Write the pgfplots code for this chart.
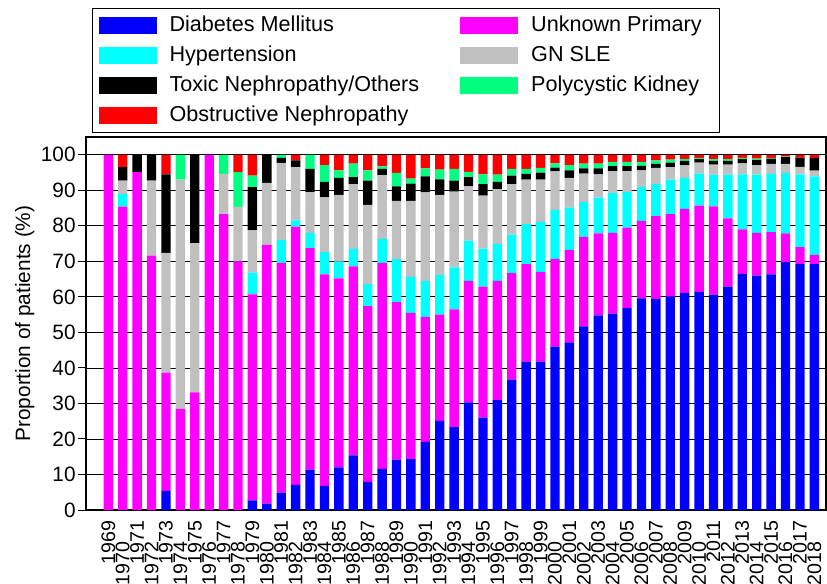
\documentclass[border=0pt]{standalone}
\usepackage{fontspec}
\setmainfont{Liberation Sans}
\usepackage{pgfplots}
\usepackage{pgfplotstable}
\pgfplotsset{compat=1.18}

\definecolor{dmblue}{RGB}{0,0,255}
\definecolor{unkmag}{RGB}{255,0,255}
\definecolor{htcyan}{RGB}{0,255,255}
\definecolor{gngray}{RGB}{192,192,192}
\definecolor{pkgreen}{RGB}{0,255,128}
\definecolor{obred}{RGB}{255,0,0}

% share of patients (%) per cause, stacked bottom to top
\pgfplotstableread{
year dm   unk   ht   gn   tox  pk  obs
1969 0    100   0    0    0    0   0
1970 0    85.4  3.5  3.8  3.8  0   3.5
1971 0    95.1  0    0    4.9  0   0
1972 0    71.6  0    21.1 7.3  0   0
1973 5.4  33.3  0    33.7 22.1 0   5.5
1974 0    28.5  0    64.5 0    7.0 0
1975 0    33.1  0    42.0 24.9 0   0
1976 0    100   0    0    0    0   0
1977 0    83.3  0    11.3 0    5.4 0
1978 0    70.0  0    15.3 0    9.8 4.9
1979 2.7  58.0  6.1  11.9 12.2 3.2 5.9
1980 1.8  72.8  0    17.5 7.9  0   0
1981 4.9  64.7  6.4  21.7 1.4  0.9 0
1982 7.1  72.7  1.7  15.0 1.9  0   1.6
1983 11.4 62.3  4.3  11.5 6.5  4.0 0
1984 6.8  59.5  6.3  15.4 4.4  4.7 2.9
1985 12.0 53.2  4.7  18.8 4.8  2.1 4.4
1986 15.4 53.2  4.9  18.2 2.0  3.8 2.5
1987 7.9  49.5  6.2  22.3 6.8  2.9 4.4
1988 11.6 58.0  6.7  18.0 1.7  0.7 3.3
1989 14.2 44.3  12.1 16.4 4.1  3.8 5.1
1990 14.3 41.2  10.1 21.4 4.9  1.4 6.7
1991 19.2 35.2  10.0 25.0 4.5  2.3 3.8
1992 25.1 29.9  11.1 22.6 4.4  2.7 4.2
1993 23.3 33.2  11.8 21.3 3.1  3.3 4.0
1994 30.3 34.2  11.3 15.3 2.6  1.5 4.8
1995 26.0 36.9  10.7 14.9 3.2  2.8 5.5
1996 30.9 33.6  10.4 15.4 2.1  2.0 5.6
1997 36.7 30.0  10.8 14.2 2.4  1.9 4.0
1998 41.8 27.4  11.3 12.5 1.6  1.4 4.0
1999 41.8 25.2  14.1 11.9 2.0  1.3 3.7
2000 46.0 24.7  13.8 10.8 1.1  1.2 2.4
2001 47.2 26.0  11.9 8.4  2.1  1.5 2.9
2002 51.7 25.2  9.8  8.0  1.5  1.3 2.5
2003 54.8 23.1  10.0 6.6  1.7  1.3 2.5
2004 55.3 22.7  11.2 6.2  1.4  1.2 2.0
2005 56.8 22.7  10.0 5.9  1.4  1.2 2.0
2006 59.6 21.8  9.5  4.7  1.3  1.1 2.0
2007 59.4 23.3  9.0  4.6  1.1  1.0 1.6
2008 60.1 23.2  9.7  3.5  1.3  0.8 1.4
2009 61.1 23.7  8.7  3.5  1.3  0.5 1.2
2010 61.4 24.3  9.0  3.1  1.0  0.3 0.9
2011 60.6 24.9  8.9  2.8  1.1  0.5 1.2
2012 62.9 19.2  12.3 2.8  1.1  0.5 1.2
2013 66.5 12.5  15.5 3.1  1.2  0.3 0.9
2014 66.0 12.0  16.4 2.6  1.5  0.4 1.1
2015 66.3 11.9  16.4 2.8  1.5  0.2 0.9
2016 69.8 8.1   16.9 2.6  1.9  0.2 0.5
2017 69.2 4.8   20.5 2.1  2.6  0   0.8
2018 69.2 2.6   22.1 1.6  3.6  0   0.9
}\causes

% even years sit one row lower
\newcommand{\lo}[1]{#1\kern10.5pt}

\begin{document}
\fontsize{10.4}{12.5}\selectfont
\begin{tikzpicture}
\begin{axis}[
  width=370pt, height=186.5pt, scale only axis,
  ybar stacked, bar width=0.65,
  xmin=1967.45, xmax=2018.81,
  ymin=0, ymax=105,
  ytick={0,10,...,100},
  xtick={1969,...,2018},
  xticklabels={1969,\lo{1970},1971,\lo{1972},1973,\lo{1974},1975,\lo{1976},1977,\lo{1978},
    1979,\lo{1980},1981,\lo{1982},1983,\lo{1984},1985,\lo{1986},1987,\lo{1988},
    1989,\lo{1990},1991,\lo{1992},1993,\lo{1994},1995,\lo{1996},1997,\lo{1998},
    1999,\lo{2000},2001,\lo{2002},2003,\lo{2004},2005,\lo{2006},2007,\lo{2008},
    2009,\lo{2010},2011,\lo{2012},2013,\lo{2014},2015,\lo{2016},2017,\lo{2018}},
  xticklabel style={rotate=90, anchor=east, inner sep=1pt, font=\fontsize{9.8}{11}\selectfont},
  yticklabel style={inner xsep=1pt},
  xtick style={draw=none},
  ytick style={black, line width=0.5pt},
  tick align=outside,
  major tick length=4pt,
  ymajorgrids,
  major grid style={black, line width=0.4pt},
  axis line style={line width=0.6pt},
  /pgf/number format/assume math mode=true,
  ylabel={Proportion of patients (\%)},
  ylabel shift=-1.5pt,
  legend image code/.code={\fill[#1] (0pt,-4.25pt) rectangle (29pt,4.25pt);},
  legend columns=2,
  legend cell align=left,
  legend style={at={(0,1)}, anchor=south west, xshift=3pt, yshift=2pt,
    draw=black, line width=0.5pt, inner xsep=3pt, inner ysep=2.5pt,
    font=\fontsize{10.8}{13}\selectfont,
    nodes={inner sep=1pt, text height=7.8pt, text depth=2.2pt},
    row sep=3pt,
    /tikz/every odd column/.append style={column sep=5.5pt},
    /tikz/every even column/.append style={column sep=19.5pt}},
]
\addplot[fill=dmblue, draw=none] table[x=year, y=dm] {\causes};
\addlegendentry{Diabetes Mellitus}
\addplot[fill=unkmag, draw=none] table[x=year, y=unk] {\causes};
\addlegendentry{Unknown Primary\kern5pt}
\addplot[fill=htcyan, draw=none] table[x=year, y=ht] {\causes};
\addlegendentry{Hypertension}
\addplot[fill=gngray, draw=none] table[x=year, y=gn] {\causes};
\addlegendentry{GN SLE}
\addplot[fill=black, draw=none] table[x=year, y=tox] {\causes};
\addlegendentry{Toxic Nephropathy/Others}
\addplot[fill=pkgreen, draw=none] table[x=year, y=pk] {\causes};
\addlegendentry{Polycystic Kidney}
\addplot[fill=obred, draw=none] table[x=year, y=obs] {\causes};
\addlegendentry{Obstructive Nephropathy}
\end{axis}
\pgfresetboundingbox
\path[use as bounding box] ([shift={(-43pt,-36.5pt)}]current axis.south west)
  rectangle ([shift={(0.5pt,68.5pt)}]current axis.north east);
\end{tikzpicture}
\end{document}
